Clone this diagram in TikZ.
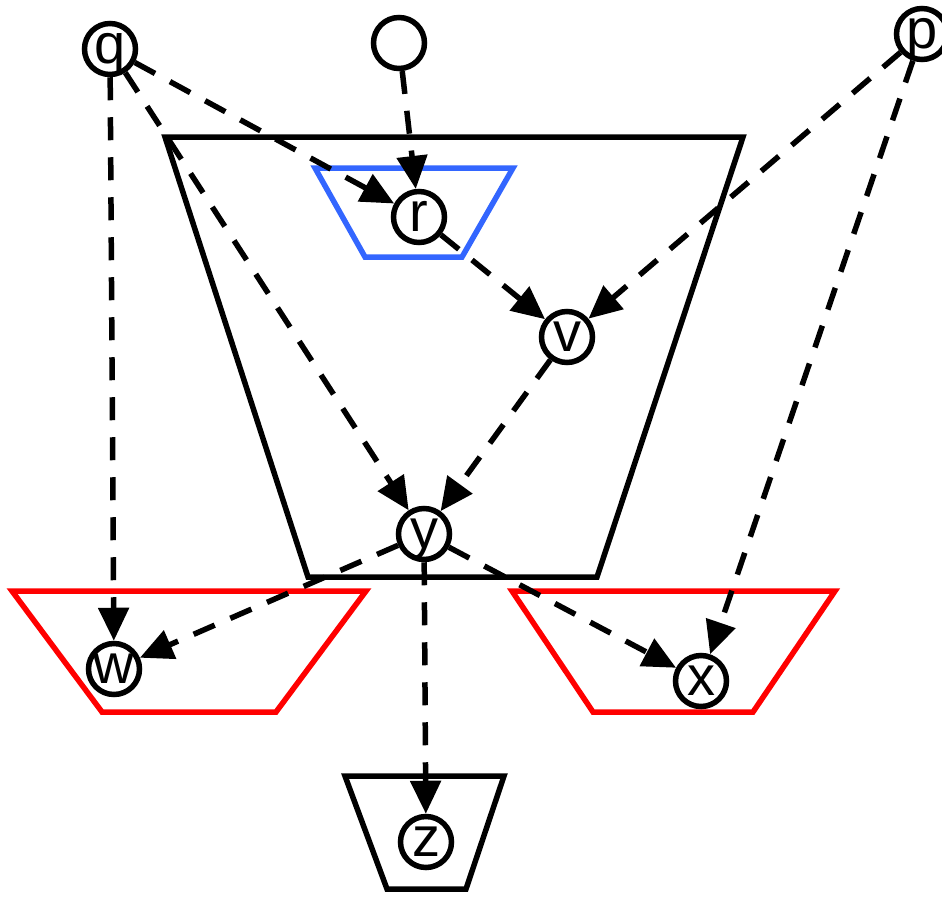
\documentclass[tikz,border=0pt]{standalone}
\usepackage{fontspec}
\setmainfont{Liberation Sans}
\usetikzlibrary{arrows.meta}
\definecolor{tzblue}{RGB}{51,102,255}
\begin{document}
\begin{tikzpicture}[x=1pt,y=-1pt,
  vtx/.style={circle,draw,fill=white,line width=5.5pt,minimum size=51pt,inner sep=0pt,
    text height=29pt,text depth=0pt,font=\fontsize{56}{60}\selectfont},
  edge/.style={line width=5.5pt,dash pattern=on 23pt off 17pt,
    -{Triangle[length=33pt,width=30pt]}},
  tz/.style={line width=5.5pt}]
\useasboundingbox (0,0) rectangle (942,897);
% trapezoids
\draw[tz] (165,137) -- (743,137) -- (597,577) -- (308,577) -- cycle;
\draw[tz,tzblue] (315,168) -- (513,168) -- (462,257) -- (365,257) -- cycle;
\draw[tz,red] (12,591) -- (366,591) -- (276,712) -- (102,712) -- cycle;
\draw[tz,red] (512,591) -- (835,591) -- (753,712) -- (593,712) -- cycle;
\draw[tz] (345,776) -- (504,776) -- (466,889) -- (387,889) -- cycle;
% nodes
\node[vtx] (q) at (110,49) {q};
\node[vtx] (s) at (399,43) {};
\node[vtx] (p) at (922,34) {p};
\node[vtx] (r) at (419,217) {r};
\node[vtx] (v) at (567,337) {v};
\node[vtx] (y) at (424,534) {y};
\node[vtx] (w) at (114,669) {w};
\node[vtx] (x) at (701,681) {x};
\node[vtx] (z) at (426,842) {z};
% edges
\draw[edge] (q) -- (w);
\draw[edge] (q) -- (r);
\draw[edge] (q) -- (y);
\draw[edge] (s) -- (r);
\draw[edge] (p) -- (v);
\draw[edge] (p) -- (x);
\draw[edge] (r) -- (v);
\draw[edge] (v) -- (y);
\draw[edge] (y) -- (w);
\draw[edge] (y) -- (x);
\draw[edge] (y) -- (z);
\end{tikzpicture}
\end{document}
